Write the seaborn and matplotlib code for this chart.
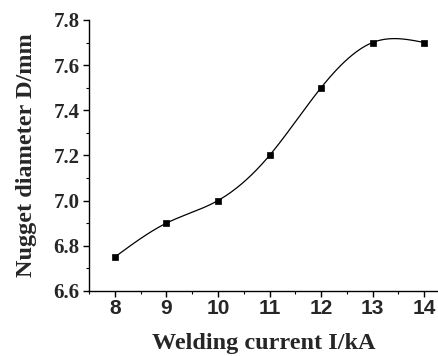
import numpy as np
import matplotlib
matplotlib.use("Agg")
import matplotlib.pyplot as plt
from matplotlib.ticker import MultipleLocator
import seaborn as sns
import pandas as pd

# data
current_ka = [8, 9, 10, 11, 12, 13, 14]
nugget_mm = [6.75, 6.9, 7.0, 7.2, 7.5, 7.7, 7.7]


def natural_spline(x, y, n=300):
    # natural cubic spline through the points (smooth connecting line)
    x = np.asarray(x, float)
    y = np.asarray(y, float)
    k = len(x)
    h = np.diff(x)
    A = np.zeros((k, k))
    b = np.zeros(k)
    A[0, 0] = A[-1, -1] = 1
    for i in range(1, k - 1):
        A[i, i - 1] = h[i - 1]
        A[i, i] = 2 * (h[i - 1] + h[i])
        A[i, i + 1] = h[i]
        b[i] = 6 * ((y[i + 1] - y[i]) / h[i] - (y[i] - y[i - 1]) / h[i - 1])
    M = np.linalg.solve(A, b)
    xs = np.linspace(x[0], x[-1], n)
    idx = np.clip(np.searchsorted(x, xs) - 1, 0, k - 2)
    x0, x1 = x[idx], x[idx + 1]
    hh = x1 - x0
    t0, t1 = x1 - xs, xs - x0
    ys = (M[idx] * t0**3 + M[idx + 1] * t1**3) / (6 * hh) \
        + (y[idx] / hh - M[idx] * hh / 6) * t0 \
        + (y[idx + 1] / hh - M[idx + 1] * hh / 6) * t1
    return xs, ys


sns.set_style("ticks")
plt.rcParams['font.family'] = ['Liberation Serif', 'DejaVu Serif']

df = pd.DataFrame({'I': current_ka, 'D': nugget_mm})
xs, ys = natural_spline(current_ka, nugget_mm)
curve = pd.DataFrame({'I': xs, 'D': ys})

fig = plt.figure(figsize=(4.39, 3.56), dpi=100)
ax = fig.add_axes([0.203, 0.183, 0.795, 0.761])

sns.lineplot(data=curve, x='I', y='D', ax=ax, color='black', linewidth=0.9)
sns.scatterplot(data=df, x='I', y='D', ax=ax, marker='s', color='black',
                s=22, edgecolor='black', linewidth=0.5, zorder=3)

ax.set_xlim(7.5, 14.27)
ax.set_ylim(6.6, 7.8)
ax.xaxis.set_major_locator(MultipleLocator(1))
ax.xaxis.set_minor_locator(MultipleLocator(0.5))
ax.yaxis.set_major_locator(MultipleLocator(0.2))
ax.yaxis.set_minor_locator(MultipleLocator(0.1))

sns.despine(ax=ax)
for s in ['left', 'bottom']:
    ax.spines[s].set_color('black')
    ax.spines[s].set_linewidth(1.0)
ax.tick_params(which='major', direction='out', length=4.5, width=1.0, color='black')
ax.tick_params(axis='y', which='major', pad=2.5)
ax.tick_params(axis='x', which='major', pad=1.5)
ax.tick_params(which='minor', direction='out', length=2.5, width=0.8, color='black')

for lab in ax.get_xticklabels():
    lab.set_family(['Liberation Sans', 'DejaVu Sans'])
    lab.set_fontweight('bold')
    lab.set_fontsize(15)
for lab in ax.get_yticklabels():
    lab.set_family(['Liberation Serif', 'DejaVu Serif'])
    lab.set_fontweight('bold')
    lab.set_fontsize(15)

ax.set_xlabel('Welding current I/kA', fontsize=17.5, fontweight='bold', labelpad=10.5)
ax.set_ylabel('Nugget diameter D/mm', fontsize=17.5, fontweight='bold', labelpad=12)

fig.savefig('out.png', dpi=100)
